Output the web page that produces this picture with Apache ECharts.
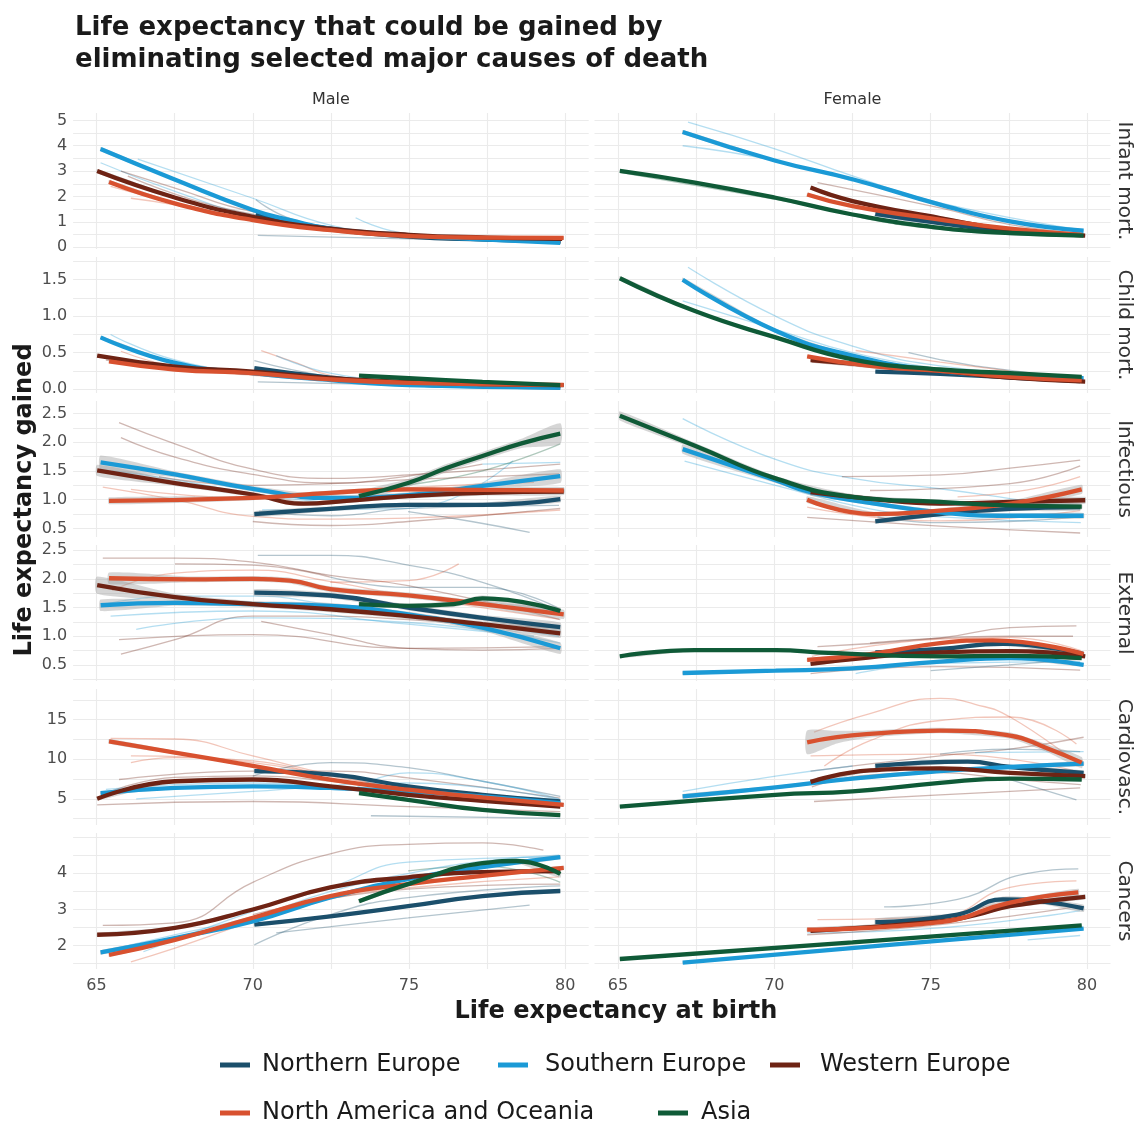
<!DOCTYPE html>
<html><head><meta charset="utf-8">
<script src="https://cdn.jsdelivr.net/npm/echarts@6/dist/echarts.min.js"></script>
<style>html,body{margin:0;padding:0;background:#fff}#c{width:1139px;height:1121px}</style>
</head><body><div id="c"></div>
<script>
// ---------- categories / labels ----------
const REGION_CODES = ['N', 'S', 'W', 'O', 'A'];
const REGION_NAMES = {N: 'Northern Europe', S: 'Southern Europe', W: 'Western Europe', O: 'North America and Oceania', A: 'Asia'};
const CAUSES = ['Infant mort.', 'Child mort.', 'Infectious', 'External', 'Cardiovasc.', 'Cancers'];
const SEXES = ['Male', 'Female'];
const X_LABELS = [65, 70, 75, 80];
const X_GRID = [65, 67.5, 70, 72.5, 75, 77.5, 80];
const X_RANGE = [64.25, 80.75];
const Y_LABELS = [[0, 1, 2, 3, 4, 5], [0, 0.5, 1, 1.5], [0.5, 1, 1.5, 2, 2.5], [0.5, 1, 1.5, 2, 2.5], [5, 10, 15], [2, 3, 4]];
const Y_GRID = [[0, 0.5, 1, 1.5, 2, 2.5, 3, 3.5, 4, 4.5, 5], [0, 0.25, 0.5, 0.75, 1, 1.25, 1.5, 1.75], [0.5, 0.75, 1, 1.25, 1.5, 1.75, 2, 2.25, 2.5], [0.25, 0.5, 0.75, 1, 1.25, 1.5, 1.75, 2, 2.25, 2.5], [2.5, 5, 7.5, 10, 12.5, 15, 17.5], [1.5, 2, 2.5, 3, 3.5, 4, 4.5, 5]];
const Y_DECIMALS = [0, 1, 1, 1, 0, 0];
const Y_RANGE = [[-0.07, 5.29], [-0.052, 1.811], [0.35, 2.718], [0.221, 2.589], [1.69, 18.88], [1.353, 5.115]];

// ---------- region smooths: [x, y, ci half-width] ----------
const infantMale = [
  ['N', [[70.1, 1.3, 0.05], [72.5, 0.72, 0.03], [75, 0.42, 0.03], [77.5, 0.3, 0.03], [79.85, 0.22, 0.04]]],
  ['S', [[65.13, 3.87, 0.08], [67.5, 2.67, 0.05], [70, 1.47, 0.04], [71.2, 1.07, 0.04], [72.5, 0.73, 0.03], [75, 0.47, 0.03], [77.5, 0.3, 0.03], [79.84, 0.17, 0.04]]],
  ['W', [[65.02, 3.0, 0.08], [67.5, 1.96, 0.05], [70, 1.2, 0.04], [72.5, 0.73, 0.03], [75, 0.49, 0.03], [77.5, 0.38, 0.03], [79.9, 0.33, 0.04]]],
  ['O', [[65.4, 2.57, 0.08], [67.5, 1.73, 0.05], [70, 1.07, 0.04], [72.5, 0.67, 0.03], [75, 0.44, 0.03], [77.5, 0.38, 0.03], [79.95, 0.37, 0.04]]]
];
const infantMaleCountries = [
  ['S', [[66.32, 3.47], [70, 1.93], [72.48, 0.87], [75, 0.44], [79.84, 0.2]]],
  ['S', [[65.13, 3.33], [67.51, 2.2], [70, 1.27], [75, 0.4], [79.5, 0.2]]],
  ['W', [[65.78, 3.0], [67.51, 2.33], [70, 1.4], [75, 0.47], [79.84, 0.33]]],
  ['O', [[66.1, 1.93], [67.51, 1.67], [70, 1.07], [75, 0.4], [79.84, 0.27]]],
  ['O', [[65.45, 2.4], [70, 1.13], [75, 0.45], [79.5, 0.35]]],
  ['N', [[70.16, 0.47], [75, 0.33], [79.84, 0.2]]],
  ['S', [[73.29, 1.16], [75, 0.53], [79.84, 0.27]]],
  ['N', [[70.1, 1.87], [71.2, 1.13], [73, 0.7], [75, 0.45], [79.5, 0.25]]],
  ['W', [[66, 2.8], [68, 1.9], [70, 1.3], [72.5, 0.7], [75, 0.45], [79.8, 0.35]]]
];
const infantFemale = [
  ['N', [[73.23, 1.31, 0.04], [75.3, 0.95, 0.03], [77.54, 0.62, 0.03], [79.78, 0.49, 0.04]]],
  ['S', [[67.07, 4.54, 0.08], [70.04, 3.41, 0.05], [72.5, 2.68, 0.04], [75.3, 1.68, 0.04], [77.54, 1.02, 0.03], [79.89, 0.65, 0.04]]],
  ['W', [[71.16, 2.35, 0.06], [72.5, 1.82, 0.04], [75.3, 1.15, 0.03], [77.54, 0.69, 0.03], [79.94, 0.46, 0.04]]],
  ['O', [[71.05, 2.08, 0.06], [72.5, 1.62, 0.04], [75.3, 1.09, 0.03], [77.54, 0.73, 0.03], [79.83, 0.49, 0.04]]],
  ['A', [[65.06, 3.01, 0.05], [67.46, 2.55, 0.04], [70.04, 1.95, 0.04], [72.5, 1.29, 0.03], [75.3, 0.76, 0.03], [77.54, 0.56, 0.03], [79.89, 0.46, 0.04]]]
];
const infantFemaleCountries = [
  ['S', [[67.24, 4.93], [70.04, 3.87], [72.5, 2.81], [75.3, 1.75], [79.78, 0.69]]],
  ['S', [[67.07, 4.0], [70.04, 3.41], [72.5, 2.6]]],
  ['W', [[71.38, 2.55], [75.3, 1.55], [77.54, 0.89], [79.78, 0.56]]],
  ['O', [[71.2, 2.3], [73, 1.7], [75.3, 1.2], [77.5, 0.75], [79.8, 0.5]]],
  ['A', [[65.06, 2.95], [70, 1.9], [75.3, 0.7], [79.8, 0.42]]],
  ['N', [[73.2, 1.25], [75.3, 0.9], [79.7, 0.45]]]
];
const childMale = [
  ['N', [[70.05, 0.29, 0.01], [72.48, 0.16, 0.01], [75, 0.07, 0.01], [77.5, 0.04, 0.01], [79.84, 0.023, 0.01]]],
  ['S', [[65.13, 0.71, 0.02], [67.51, 0.36, 0.01], [70, 0.22, 0.01], [72.48, 0.125, 0.01], [75, 0.056, 0.01], [79.84, 0.023, 0.01]]],
  ['W', [[65.02, 0.46, 0.015], [67.51, 0.31, 0.01], [70, 0.24, 0.01], [72.48, 0.15, 0.01], [75, 0.1, 0.01], [77.5, 0.07, 0.01], [79.95, 0.056, 0.01]]],
  ['O', [[65.4, 0.38, 0.02], [67.51, 0.27, 0.01], [70, 0.22, 0.01], [72.48, 0.134, 0.01], [75, 0.088, 0.01], [79.95, 0.06, 0.01]]],
  ['A', [[73.4, 0.185, 0.01], [75, 0.15, 0.01], [77.35, 0.1, 0.01], [79.84, 0.056, 0.01]]]
];
const childMaleCountries = [
  ['O', [[70.27, 0.53], [71.4, 0.36], [72.48, 0.19], [75, 0.08], [79.8, 0.04]]],
  ['S', [[70.75, 0.46], [72.48, 0.22], [75, 0.09]]],
  ['N', [[70.05, 0.39], [72.48, 0.17], [75, 0.07]]],
  ['S', [[65.45, 0.75], [67.51, 0.4], [70, 0.24], [75, 0.06]]],
  ['O', [[65.78, 0.52], [67.51, 0.31], [70, 0.19], [75, 0.07]]],
  ['N', [[70.16, 0.1], [75, 0.056], [79.84, 0.03]]],
  ['W', [[65.3, 0.4], [67.5, 0.29], [70, 0.2], [72.5, 0.13], [75, 0.08]]]
];
const childFemale = [
  ['N', [[73.23, 0.24, 0.01], [75.3, 0.21, 0.01], [77.54, 0.16, 0.01], [79.78, 0.11, 0.01]]],
  ['S', [[67.07, 1.5, 0.03], [70.04, 0.8, 0.02], [72.5, 0.46, 0.01], [75.3, 0.25, 0.01], [77.54, 0.18, 0.01], [79.89, 0.15, 0.01]]],
  ['W', [[71.16, 0.4, 0.015], [75.3, 0.25, 0.01], [77.54, 0.16, 0.01], [79.94, 0.105, 0.01]]],
  ['O', [[71.05, 0.45, 0.015], [73.06, 0.32, 0.01], [75.3, 0.25, 0.01], [77.54, 0.17, 0.01], [79.83, 0.12, 0.01]]],
  ['A', [[65.06, 1.52, 0.03], [67.46, 1.07, 0.02], [70.04, 0.71, 0.02], [72.5, 0.41, 0.01], [75.3, 0.27, 0.01], [77.54, 0.22, 0.01], [79.83, 0.17, 0.01]]]
];
const childFemaleCountries = [
  ['S', [[67.24, 1.67], [70.04, 1.0], [72.5, 0.59], [75.3, 0.32], [79.78, 0.16]]],
  ['S', [[67.07, 1.21], [70.04, 0.82], [72.5, 0.5], [75, 0.3]]],
  ['N', [[74.29, 0.5], [76.42, 0.32], [79.78, 0.16]]],
  ['O', [[72.6, 0.53], [75.3, 0.37], [77.5, 0.25]]],
  ['W', [[71.2, 0.37], [75.3, 0.22], [79.8, 0.1]]]
];
const infectMale = [
  ['N', [[70.05, 0.75, 0.05], [72.48, 0.84, 0.04], [74.97, 0.91, 0.04], [77.35, 0.91, 0.04], [79.84, 1.01, 0.06]]],
  ['S', [[65.13, 1.65, 0.12], [67.51, 1.44, 0.05], [70, 1.19, 0.05], [72.48, 1.03, 0.05], [74.97, 1.08, 0.05], [77.35, 1.24, 0.06], [79.84, 1.41, 0.12]]],
  ['W', [[65.02, 1.51, 0.1], [67.51, 1.29, 0.05], [70, 1.09, 0.04], [71.62, 0.93, 0.04], [73, 0.98, 0.04], [74.97, 1.06, 0.04], [77.35, 1.12, 0.05], [79.95, 1.14, 0.06]]],
  ['O', [[65.4, 0.98, 0.06], [70, 1.03, 0.04], [72.48, 1.12, 0.04], [74.97, 1.18, 0.04], [77.35, 1.17, 0.04], [79.95, 1.16, 0.06]]],
  ['A', [[73.4, 1.06, 0.08], [74.97, 1.29, 0.07], [76.2, 1.55, 0.07], [77.35, 1.76, 0.07], [78.6, 1.98, 0.08], [79.84, 2.15, 0.18]]]
];
const infectMaleCountries = [
  ['W', [[65.72, 2.34], [67.51, 1.97], [70, 1.53], [72.48, 1.37], [74.97, 1.43], [79.84, 1.62]]],
  ['W', [[65.78, 2.08], [67.51, 1.74], [70, 1.44], [72.48, 1.29], [74.97, 1.41], [77.35, 1.62]]],
  ['O', [[65.2, 1.22], [67.51, 1.0], [70, 0.71], [72.48, 0.66], [74.97, 0.68], [79.84, 0.82]]],
  ['O', [[66.1, 1.18], [70, 1.03], [74.97, 1.21], [79, 1.3]]],
  ['N', [[74.97, 0.79], [77, 0.62], [78.86, 0.43]]],
  ['S', [[70.3, 0.82], [74.97, 0.85], [78.33, 1.68]]],
  ['S', [[77.35, 1.62], [79.84, 1.65]]],
  ['A', [[74.97, 1.26], [77.35, 1.5], [79.84, 1.97]]],
  ['W', [[70, 0.62], [72.48, 0.55], [74.97, 0.62], [79.84, 0.85]]],
  ['N', [[70.2, 0.8], [72.5, 0.72], [75, 0.85], [79.8, 0.9]]],
  ['S', [[65.5, 1.5], [67.5, 1.35], [70, 1.1], [72.5, 0.95]]],
  ['W', [[67, 1.4], [70, 1.25], [72.5, 1.28], [75, 1.35], [77.5, 1.4], [79.8, 1.45]]]
];
const infectFemale = [
  ['N', [[73.23, 0.62, 0.04], [75.3, 0.75, 0.04], [77.54, 0.84, 0.04], [79.78, 0.87, 0.06]]],
  ['S', [[67.07, 1.88, 0.08], [70.04, 1.34, 0.05], [71.16, 1.13, 0.05], [73, 0.95, 0.04], [75.3, 0.78, 0.04], [77.54, 0.72, 0.04], [79.89, 0.72, 0.05]]],
  ['W', [[71.16, 1.13, 0.06], [73, 1.02, 0.04], [75.3, 0.93, 0.04], [77.54, 0.96, 0.04], [79.94, 0.99, 0.06]]],
  ['O', [[71.05, 1.0, 0.06], [73.17, 0.75, 0.04], [75.3, 0.81, 0.04], [77.54, 0.93, 0.05], [79.83, 1.18, 0.08]]],
  ['A', [[65.06, 2.46, 0.08], [67.46, 1.94, 0.05], [70.04, 1.37, 0.04], [72.5, 1.05, 0.04], [75.3, 0.96, 0.04], [77.54, 0.9, 0.04], [79.83, 0.88, 0.05]]]
];
const infectFemaleCountries = [
  ['S', [[67.07, 2.41], [70.04, 1.7], [72.5, 1.37], [75.3, 1.19], [77.54, 1.02], [79.78, 0.84]]],
  ['S', [[67.13, 1.67], [70.04, 1.25], [73.06, 0.84], [75.3, 0.7], [79.8, 0.6]]],
  ['W', [[72.16, 1.4], [75.3, 1.43], [77.54, 1.55], [79.78, 1.69]]],
  ['W', [[73.06, 1.16], [77.54, 1.28], [79.78, 1.59]]],
  ['O', [[75.86, 1.05], [78.1, 1.17], [79.78, 1.4]]],
  ['W', [[71.05, 0.69], [75.3, 0.54], [79.78, 0.42]]],
  ['O', [[71.05, 0.87], [75.3, 0.63], [79.78, 0.81]]],
  ['N', [[73.3, 0.7], [75.3, 0.6], [77.5, 0.62], [79.8, 0.7]]]
];
const externalMale = [
  ['N', [[70.05, 1.76, 0.06], [72.48, 1.71, 0.05], [74.97, 1.5, 0.05], [77.35, 1.32, 0.05], [79.84, 1.16, 0.08]]],
  ['S', [[65.13, 1.54, 0.1], [67.51, 1.58, 0.05], [70, 1.56, 0.05], [72.48, 1.53, 0.05], [74.97, 1.38, 0.05], [77.35, 1.15, 0.06], [79.84, 0.79, 0.1]]],
  ['W', [[65.02, 1.89, 0.15], [67.51, 1.68, 0.06], [70, 1.56, 0.05], [72.48, 1.47, 0.05], [74.97, 1.35, 0.05], [77.35, 1.21, 0.05], [79.84, 1.05, 0.08]]],
  ['O', [[65.4, 2.01, 0.1], [68, 1.99, 0.05], [70, 2.0, 0.05], [71.19, 1.97, 0.05], [72.48, 1.82, 0.05], [74.97, 1.71, 0.05], [77.35, 1.56, 0.05], [79.95, 1.38, 0.08]]],
  ['A', [[73.4, 1.56, 0.04], [74.97, 1.53, 0.04], [76.43, 1.56, 0.05], [77.35, 1.66, 0.05], [79.84, 1.44, 0.06]]]
];
const externalMaleCountries = [
  ['W', [[65.2, 2.36], [67.5, 2.36], [70, 2.29], [72.48, 2.06], [74.97, 1.88], [79.84, 1.29]]],
  ['N', [[70.16, 2.41], [72.48, 2.41], [74.97, 2.24], [77.35, 1.94], [79.84, 1.44]]],
  ['W', [[65.72, 0.94], [70, 1.03], [74.97, 0.79], [79.84, 0.82]]],
  ['W', [[65.78, 0.69], [67.51, 0.94], [70, 1.35], [72.48, 1.35], [74.97, 1.29], [77.5, 1.2], [79.8, 1.15]]],
  ['W', [[70.27, 1.26], [72.48, 1.03], [74.97, 0.79], [77.35, 0.76], [79.84, 0.79]]],
  ['S', [[66.27, 1.12], [70, 1.32], [74.97, 1.24], [79.84, 0.88]]],
  ['S', [[65.45, 1.35], [70, 1.44], [74.97, 1.21], [79, 1.0]]],
  ['O', [[72.48, 1.94], [74.97, 1.97], [76.59, 2.26]]],
  ['N', [[72.48, 2.03], [74.97, 1.85], [77.35, 1.85], [79.84, 1.47]]],
  ['W', [[67.51, 2.26], [70, 2.24], [72.48, 2.03]]],
  ['O', [[65.5, 1.8], [67.5, 2.1], [70, 2.15], [72.5, 1.95], [75, 1.7], [79.8, 1.3]]],
  ['S', [[65.2, 1.55], [67.5, 1.7], [70, 1.7], [72.5, 1.55], [75, 1.4], [79.8, 1.0]]]
];
const externalFemale = [
  ['N', [[73.23, 0.72, 0.02], [75.3, 0.78, 0.02], [77.31, 0.87, 0.03], [79.89, 0.69, 0.04]]],
  ['S', [[67.07, 0.36, 0.03], [70.04, 0.4, 0.02], [72.5, 0.44, 0.02], [75.3, 0.56, 0.02], [77.54, 0.62, 0.02], [79.89, 0.5, 0.03]]],
  ['W', [[71.16, 0.52, 0.03], [73, 0.63, 0.02], [75.3, 0.72, 0.02], [77.54, 0.74, 0.02], [79.94, 0.65, 0.03]]],
  ['O', [[71.05, 0.59, 0.03], [73.06, 0.69, 0.02], [75.3, 0.88, 0.02], [76.98, 0.93, 0.02], [79.89, 0.69, 0.04]]],
  ['A', [[65.06, 0.65, 0.03], [67.46, 0.76, 0.02], [70.04, 0.76, 0.02], [71.72, 0.71, 0.02], [75.3, 0.65, 0.02], [77.54, 0.66, 0.02], [79.83, 0.62, 0.03]]]
];
const externalFemaleCountries = [
  ['W', [[71.38, 0.82], [75.3, 0.97], [77.54, 1.15], [79.66, 1.18]]],
  ['W', [[73.06, 0.88], [77.54, 1.0], [79.55, 1.0]]],
  ['W', [[71.16, 0.35], [75.3, 0.47], [79.78, 0.41]]],
  ['S', [[72.6, 0.35], [75.3, 0.53], [79.78, 0.56]]],
  ['O', [[71.2, 0.65], [75.3, 0.95], [77.5, 0.98], [79.8, 0.75]]],
  ['N', [[75, 0.4], [77.5, 0.5], [79.8, 0.6]]]
];
const cardioMale = [
  ['N', [[70.05, 8.5, 0.2], [72.48, 8.08, 0.15], [74.97, 6.58, 0.15], [77.35, 5.51, 0.15], [79.84, 4.66, 0.2]]],
  ['S', [[65.13, 5.73, 0.2], [67.51, 6.37, 0.15], [70, 6.58, 0.15], [72.48, 6.37, 0.15], [74.97, 5.94, 0.15], [77.35, 5.3, 0.15], [79.84, 4.44, 0.2]]],
  ['W', [[65.02, 5.0, 0.2], [67.51, 7.22, 0.15], [70, 7.44, 0.15], [72.48, 6.58, 0.15], [74.97, 5.51, 0.15], [77.35, 4.74, 0.15], [79.84, 4.02, 0.2]]],
  ['O', [[65.4, 12.26, 0.3], [67.51, 10.85, 0.2], [70, 9.15, 0.15], [72.48, 7.44, 0.15], [74.97, 6.15, 0.15], [77.35, 5.17, 0.15], [79.95, 4.23, 0.25]]],
  ['A', [[73.4, 5.73, 0.15], [74.97, 4.87, 0.15], [77.35, 3.59, 0.15], [79.84, 2.95, 0.2]]]
];
const cardioMaleCountries = [
  ['O', [[65.45, 12.65], [67.51, 12.56], [70, 10.43], [72.48, 8.08], [74.97, 6.37], [79.84, 4.66]]],
  ['O', [[66.1, 10.43], [70, 9.79], [72.48, 7.86], [75, 6.2]]],
  ['O', [[66.1, 9.57], [67.51, 10.2], [70, 9.57], [72.5, 7.8]]],
  ['W', [[65.72, 7.44], [70, 8.5], [72.48, 8.5], [74.97, 7.65], [79.84, 5.09]]],
  ['N', [[70, 7.86], [72.48, 9.57], [74.97, 8.93], [77.35, 7.22], [79.84, 5.3]]],
  ['N', [[73.78, 2.86], [79.84, 2.52]]],
  ['W', [[65.02, 4.23], [70, 4.66], [74.97, 4.02], [79.84, 3.38]]],
  ['S', [[66.27, 5.0], [70, 5.94], [74.97, 7.0], [79.84, 4.87]]],
  ['S', [[73.3, 6.37], [74.97, 8.29], [77.35, 7.22], [79.8, 5.0]]],
  ['W', [[65.5, 6.0], [67.5, 7.7], [70, 7.9], [72.5, 7.2], [75, 6.0], [79.8, 4.5]]],
  ['S', [[65.3, 6.2], [67.5, 6.8], [70, 7.0], [72.5, 6.6], [75, 5.8], [79.8, 4.3]]]
];
const cardioFemale = [
  ['N', [[73.23, 9.15, 0.3], [76.19, 9.7, 0.2], [77.54, 9.02, 0.2], [79.89, 8.29, 0.3]]],
  ['S', [[67.07, 5.3, 0.3], [70.04, 6.45, 0.2], [72.5, 7.56, 0.2], [75.3, 8.5, 0.2], [77.54, 9.02, 0.2], [79.89, 9.44, 0.3]]],
  ['W', [[71.16, 7.14, 0.3], [73.06, 8.59, 0.2], [75.3, 8.85, 0.2], [77.54, 8.29, 0.2], [79.94, 7.86, 0.3]]],
  ['O', [[71.05, 12.14, 1.5], [72.0, 12.8, 0.8], [73.06, 13.2, 0.45], [75.3, 13.63, 0.35], [77.54, 12.99, 0.4], [78.66, 11.5, 0.5], [79.83, 9.57, 0.7]]],
  ['A', [[65.06, 4.02, 0.15], [70.04, 5.51, 0.1], [72.5, 5.94, 0.1], [75.3, 7.01, 0.1], [77.54, 7.56, 0.1], [79.83, 7.44, 0.2]]]
];
const cardioFemaleCountries = [
  ['O', [[71.27, 13.42], [73.06, 15.77], [75.3, 17.7], [76.42, 16.95], [77.54, 15.34], [79.66, 9.57]]],
  ['O', [[71.6, 9.15], [73.06, 12.35], [75.3, 14.9], [77.54, 15.34], [79.66, 11.92]]],
  ['O', [[71.16, 10.43], [75.3, 10.64], [79.66, 8.5]]],
  ['W', [[71.16, 8.5], [75.3, 10.43], [77.54, 11.28], [79.89, 12.78]]],
  ['W', [[71.27, 4.66], [75.3, 5.51], [79.78, 6.37]]],
  ['N', [[75.3, 10.64], [77.54, 11.28], [79.78, 10.96]]],
  ['N', [[77.54, 7.44], [79.66, 4.87]]],
  ['S', [[67.07, 5.94], [70.04, 7.86], [72.5, 9.15]]],
  ['S', [[76.42, 10.85], [79.89, 10.96]]],
  ['W', [[71.2, 6.5], [73, 8.0], [75.3, 8.3], [77.5, 7.5], [79.8, 6.8]]]
];
const cancerMale = [
  ['N', [[70.05, 2.58, 0.04], [72.48, 2.81, 0.04], [74.97, 3.09, 0.04], [77.35, 3.37, 0.04], [79.84, 3.51, 0.05]]],
  ['S', [[65.13, 1.81, 0.06], [67.51, 2.21, 0.04], [70, 2.67, 0.04], [72.48, 3.33, 0.04], [74.97, 3.84, 0.04], [77.35, 4.17, 0.04], [79.84, 4.45, 0.06]]],
  ['W', [[65.02, 2.3, 0.05], [67.51, 2.49, 0.04], [70, 3.0, 0.04], [72.48, 3.61, 0.04], [74.97, 3.89, 0.04], [77.35, 4.03, 0.04], [79.84, 4.06, 0.06]]],
  ['O', [[65.4, 1.74, 0.05], [67.51, 2.16, 0.04], [70, 2.77, 0.04], [72.48, 3.37, 0.04], [74.97, 3.7, 0.04], [77.35, 3.93, 0.04], [79.95, 4.15, 0.06]]],
  ['A', [[73.4, 3.23, 0.05], [74.97, 3.7, 0.05], [77.35, 4.28, 0.05], [78.43, 4.34, 0.06], [79.84, 3.98, 0.1]]]
];
const cancerMaleCountries = [
  ['W', [[65.2, 2.56], [67.51, 2.63], [70, 3.75], [72.48, 4.54], [74.97, 4.8], [77.35, 4.84], [79.3, 4.64]]],
  ['O', [[66.1, 1.55], [67.51, 1.93], [70, 2.67], [72.5, 3.3], [75, 3.6], [79.8, 3.9]]],
  ['S', [[66.5, 1.83], [70, 2.95], [72.48, 3.61], [74.97, 4.31], [79.84, 4.45]]],
  ['N', [[70.05, 2.02], [72.48, 2.86], [74.97, 3.33], [79.84, 3.65]]],
  ['N', [[70.75, 2.35], [74.97, 2.77], [78.86, 3.12]]],
  ['A', [[74.97, 4.07], [77.35, 4.2], [79.84, 3.75]]],
  ['W', [[70, 2.86], [74.97, 3.56], [79.84, 3.7]]],
  ['S', [[65.5, 1.9], [67.5, 2.3], [70, 2.8], [72.5, 3.5], [75, 4.0], [77.5, 4.35], [79.8, 4.5]]]
];
const cancerFemale = [
  ['N', [[73.23, 2.65, 0.1], [75.86, 2.86, 0.05], [77.31, 3.28, 0.08], [78.66, 3.21, 0.08], [79.89, 3.03, 0.1]]],
  ['S', [[67.07, 1.53, 0.03], [73.4, 2.0, 0.02], [79.89, 2.47, 0.03]]],
  ['W', [[71.16, 2.41, 0.06], [75.3, 2.67, 0.04], [76.42, 2.84, 0.04], [77.54, 3.09, 0.05], [79.94, 3.35, 0.07]]],
  ['O', [[71.05, 2.44, 0.06], [75.3, 2.65, 0.04], [77.54, 3.19, 0.06], [79.72, 3.47, 0.1]]],
  ['A', [[65.06, 1.63, 0.03], [72.5, 2.09, 0.02], [79.83, 2.56, 0.03]]]
];
const cancerFemaleCountries = [
  ['N', [[73.51, 3.07], [75.86, 3.28], [78.1, 4.0], [79.72, 4.12]]],
  ['O', [[71.38, 2.72], [75.3, 2.81], [77.54, 3.61], [79.66, 3.79]]],
  ['O', [[75.3, 2.72], [77.54, 3.23], [79.66, 3.51]]],
  ['S', [[78.1, 2.16], [79.78, 2.28]]],
  ['S', [[71.05, 2.35], [75.3, 2.49], [79.78, 2.97]]],
  ['W', [[71.05, 2.3], [75.3, 2.58], [79.78, 3.09]]]
];

// ---------- styling / layout ----------
const COLORS = {N: '#1b4f6b', S: '#1b9ad6', W: '#6e2314', O: '#d8512f', A: '#0f5a37'};
const FONT = '"DejaVu Sans", sans-serif';
const GRID_COLOR = '#ebebeb';
const GRID_TOP = 113, PANEL_H = 136, PANEL_GAP = 8;
const COL_LEFT = [73.1, 594.5], COL_W = [515.6, 516];
const SMOOTH = 0.5;

const PANELS = [
  [[infantMale, infantMaleCountries], [infantFemale, infantFemaleCountries]],
  [[childMale, childMaleCountries], [childFemale, childFemaleCountries]],
  [[infectMale, infectMaleCountries], [infectFemale, infectFemaleCountries]],
  [[externalMale, externalMaleCountries], [externalFemale, externalFemaleCountries]],
  [[cardioMale, cardioMaleCountries], [cardioFemale, cardioFemaleCountries]],
  [[cancerMale, cancerMaleCountries], [cancerFemale, cancerFemaleCountries]]
];

const grids = [], xAxes = [], yAxes = [], series = [], graphics = [];
const tickFont = {fontSize: 16, color: '#4d4d4d', fontFamily: FONT};

CAUSES.forEach((cause, r) => {
  SEXES.forEach((sex, c) => {
    const gi = r * 2 + c;
    const top = GRID_TOP + r * (PANEL_H + PANEL_GAP);
    grids.push({left: COL_LEFT[c], top: top, width: COL_W[c], height: PANEL_H, show: false, containLabel: false, outerBoundsMode: 'none'});
    xAxes.push({
      type: 'value', gridIndex: gi, min: X_RANGE[0], max: X_RANGE[1],
      axisLine: {show: false}, axisTick: {show: false, customValues: X_GRID},
      splitLine: {show: true, lineStyle: {color: GRID_COLOR, width: 1.1}},
      axisLabel: Object.assign({show: r === CAUSES.length - 1, customValues: X_LABELS, margin: 9}, tickFont)
    });
    yAxes.push({
      type: 'value', gridIndex: gi, min: Y_RANGE[r][0], max: Y_RANGE[r][1],
      axisLine: {show: false}, axisTick: {show: false, customValues: Y_GRID[r]},
      splitLine: {show: true, lineStyle: {color: GRID_COLOR, width: 1.1}},
      axisLabel: Object.assign({show: c === 0, customValues: Y_LABELS[r], margin: 6,
        formatter: v => Y_DECIMALS[r] ? Number(v).toFixed(1) : String(v)}, tickFont)
    });
    const [regions, countries] = PANELS[r][c];
    countries.forEach(([code, pts]) => {
      series.push({
        type: 'line', name: 'country', xAxisIndex: gi, yAxisIndex: gi, data: pts,
        showSymbol: false, symbol: 'none', smooth: SMOOTH, silent: true, z: 1,
        color: COLORS[code], lineStyle: {color: COLORS[code], width: 1.3, opacity: 0.33}, animation: false
      });
    });
    regions.forEach(([code, pts]) => {
      const upper = pts.map(p => [p[0], p[1] + p[2]]);
      const lower = pts.map(p => [p[0], p[1] - p[2]]).reverse();
      const ring = upper.concat(lower);
      series.push({
        type: 'custom', name: 'band', xAxisIndex: gi, yAxisIndex: gi, silent: true, z: 2, animation: false,
        data: [[pts[0][0], pts[0][1]]], encode: {x: 0, y: 1},
        renderItem: (params, api) => ({
          type: 'polygon', shape: {points: ring.map(v => api.coord(v)), smooth: 0.2},
          style: {fill: 'rgba(153,153,153,0.4)', stroke: null}
        })
      });
    });
    regions.forEach(([code, pts]) => {
      series.push({
        type: 'line', name: REGION_NAMES[code], xAxisIndex: gi, yAxisIndex: gi,
        data: pts.map(p => [p[0], p[1]]), showSymbol: false, symbol: 'none',
        smooth: SMOOTH, z: 3, color: COLORS[code],
        itemStyle: {color: COLORS[code]},
        lineStyle: {color: COLORS[code], width: 4.3, cap: 'butt'}, animation: false
      });
    });
    if (r === 0) {
      graphics.push({type: 'text', x: COL_LEFT[c] + COL_W[c] / 2, y: 100,
        style: {text: sex, font: '16px ' + FONT, fill: '#333333', align: 'center', verticalAlign: 'middle'}});
    }
    if (c === 1) {
      graphics.push({type: 'text', x: 1124, y: top + PANEL_H / 2, rotation: -Math.PI / 2,
        style: {text: cause, font: '20px ' + FONT, fill: '#333333', align: 'center', verticalAlign: 'middle'}});
    }
  });
});

graphics.push({type: 'text', x: 75, y: 12,
  style: {text: 'Life expectancy that could be gained by\neliminating selected major causes of death',
    font: 'bold 26px ' + FONT, fill: '#1a1a1a', lineHeight: 32, align: 'left', verticalAlign: 'top'}});
graphics.push({type: 'text', x: 25, y: 500, rotation: Math.PI / 2,
  style: {text: 'Life expectancy gained', font: 'bold 24px ' + FONT, fill: '#1a1a1a', align: 'center', verticalAlign: 'middle'}});
graphics.push({type: 'text', x: 616, y: 1012,
  style: {text: 'Life expectancy at birth', font: 'bold 24px ' + FONT, fill: '#1a1a1a', align: 'center', verticalAlign: 'middle'}});

const LEGEND_POS = {N: [220, 1063, 12], S: [498, 1063, 17], W: [770, 1063, 20], O: [220, 1111, 12], A: [658, 1111, 13]};
const legends = REGION_CODES.map(code => ({
  data: [REGION_NAMES[code]], left: LEGEND_POS[code][0], top: LEGEND_POS[code][1] - 10,
  padding: 0, icon: 'rect', itemWidth: 30, itemHeight: 5, selectedMode: false,
  textStyle: {fontSize: 24, fontFamily: FONT, color: '#1a1a1a', padding: [0, 0, 0, LEGEND_POS[code][2] - 5]}
}));

const chart = echarts.init(document.getElementById('c'), null, {renderer: 'canvas'});
chart.setOption({
  backgroundColor: '#ffffff', animation: false,
  grid: grids, xAxis: xAxes, yAxis: yAxes, series: series,
  legend: legends, graphic: graphics, tooltip: {show: false}
});
</script></body></html>
